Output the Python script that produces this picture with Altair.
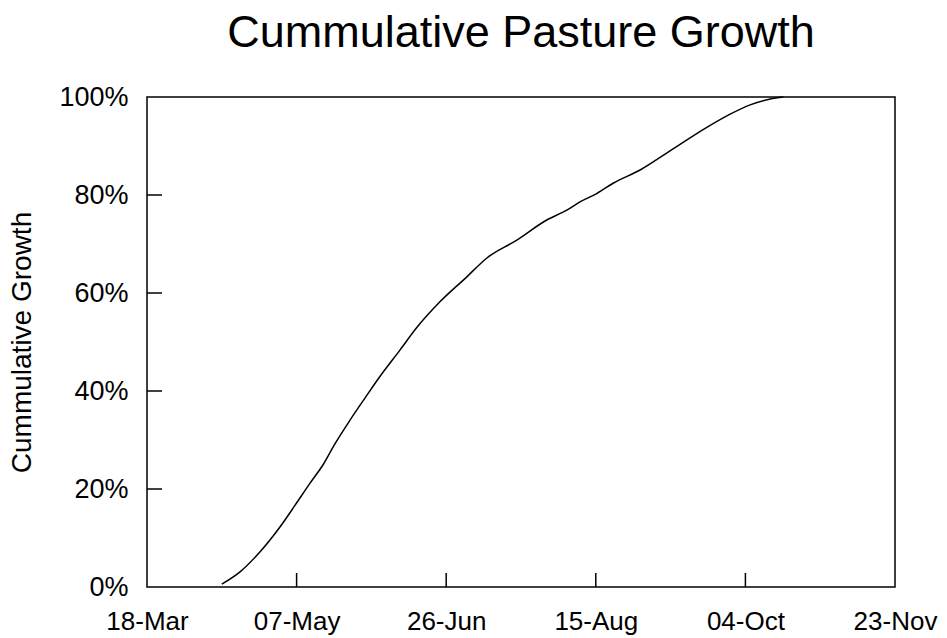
import altair as alt
import pandas as pd

# Curve: days after 18-Mar and cumulative growth (%)
day_offsets = [25.0, 31.1, 37.8, 44.5, 49.5, 54.5, 58.9, 62.8, 67.8, 72.9,
               77.9, 84.6, 90.1, 97.9, 106.9, 113.5, 123.6, 133.6, 140.3, 144.7,
               150.3, 155.8, 164.8, 174.8, 187.1, 194.9, 201.6, 208.3, 212.7]
growth_pct = [0.6, 3.1, 7.2, 12.3, 16.7, 21.2, 25.0, 29.2, 34.0, 38.6,
              43.0, 48.4, 52.9, 58.2, 63.3, 67.1, 70.8, 74.9, 76.9, 78.6,
              80.3, 82.4, 85.1, 89.0, 93.8, 96.5, 98.4, 99.6, 100.0]

start_date = "2001-03-18"
x_tick_dates = ["2001-03-18", "2001-05-07", "2001-06-26", "2001-08-15",
                "2001-10-04", "2001-11-23"]
inner_x_ticks = x_tick_dates[1:-1]
y_tick_values = [0, 20, 40, 60, 80, 100]
inner_y_ticks = y_tick_values[1:-1]

start = pd.Timestamp(start_date)
curve = pd.DataFrame({
    "date": [(start + pd.Timedelta(days=d)).isoformat() for d in day_offsets],
    "growth": [g / 100 for g in growth_pct],
})

W, H = 748, 490
FONT = "Liberation Sans"

def dt(s):
    y, m, d = (int(p) for p in s.split("-"))
    return alt.DateTime(year=y, month=m, date=d, utc=True)

x_scale = alt.Scale(type="utc", domain=[dt(x_tick_dates[0]), dt(x_tick_dates[-1])])
y_scale = alt.Scale(domain=[0, 1], nice=False)

x_axis = alt.Axis(values=[dt(s) for s in x_tick_dates],
                  labelExpr="utcFormat(datum.value, '%d-%b')",
                  title=None, labelPadding=21, labelFontSize=26)
y_axis = alt.Axis(values=[v / 100 for v in y_tick_values], format=".0%",
                  title="Cummulative Growth", labelPadding=19, labelFontSize=27,
                  titleFontSize=28,
                  titleX=-125, titleY=H / 2, titleBaseline="middle", titleAngle=270)

line = alt.Chart(curve).mark_line(color="black", strokeWidth=1.5,
                                  interpolate="monotone").encode(
    x=alt.X("date:T", scale=x_scale, axis=x_axis),
    y=alt.Y("growth:Q", scale=y_scale, axis=y_axis),
)

xt = alt.Chart(pd.DataFrame({"date": inner_x_ticks})).mark_rule(
    color="black", strokeWidth=1.5).encode(
    x=alt.X("date:T", scale=x_scale, axis=x_axis), y=alt.value(H - 14), y2=alt.value(H))

yt = alt.Chart(pd.DataFrame({"growth": [v / 100 for v in inner_y_ticks]})).mark_rule(
    color="black", strokeWidth=1.5).encode(
    y=alt.Y("growth:Q", scale=y_scale, axis=y_axis), x=alt.value(0), x2=alt.value(15))

chart = alt.layer(line, xt, yt).properties(
    width=W, height=H,
    title=alt.TitleParams("Cummulative Pasture Growth", fontSize=45, font=FONT,
                          fontWeight="normal", color="black", anchor="middle",
                          baseline="alphabetic", offset=-9, frame="group"),
    autosize=alt.AutoSizeParams(type="none"),
    padding={"left": 139, "top": 89, "right": 44, "bottom": 50},
).configure(background="white").configure_view(
    stroke="black", strokeWidth=1.5
).configure_axis(
    ticks=False, domain=False, grid=False, labelFont=FONT,
    labelColor="black", labelFlush=False, labelOverlap=False,
    titleFont=FONT, titleFontWeight="normal", titleColor="black",
)

chart.save("out.html", embed_options={"renderer": "svg", "actions": False})
